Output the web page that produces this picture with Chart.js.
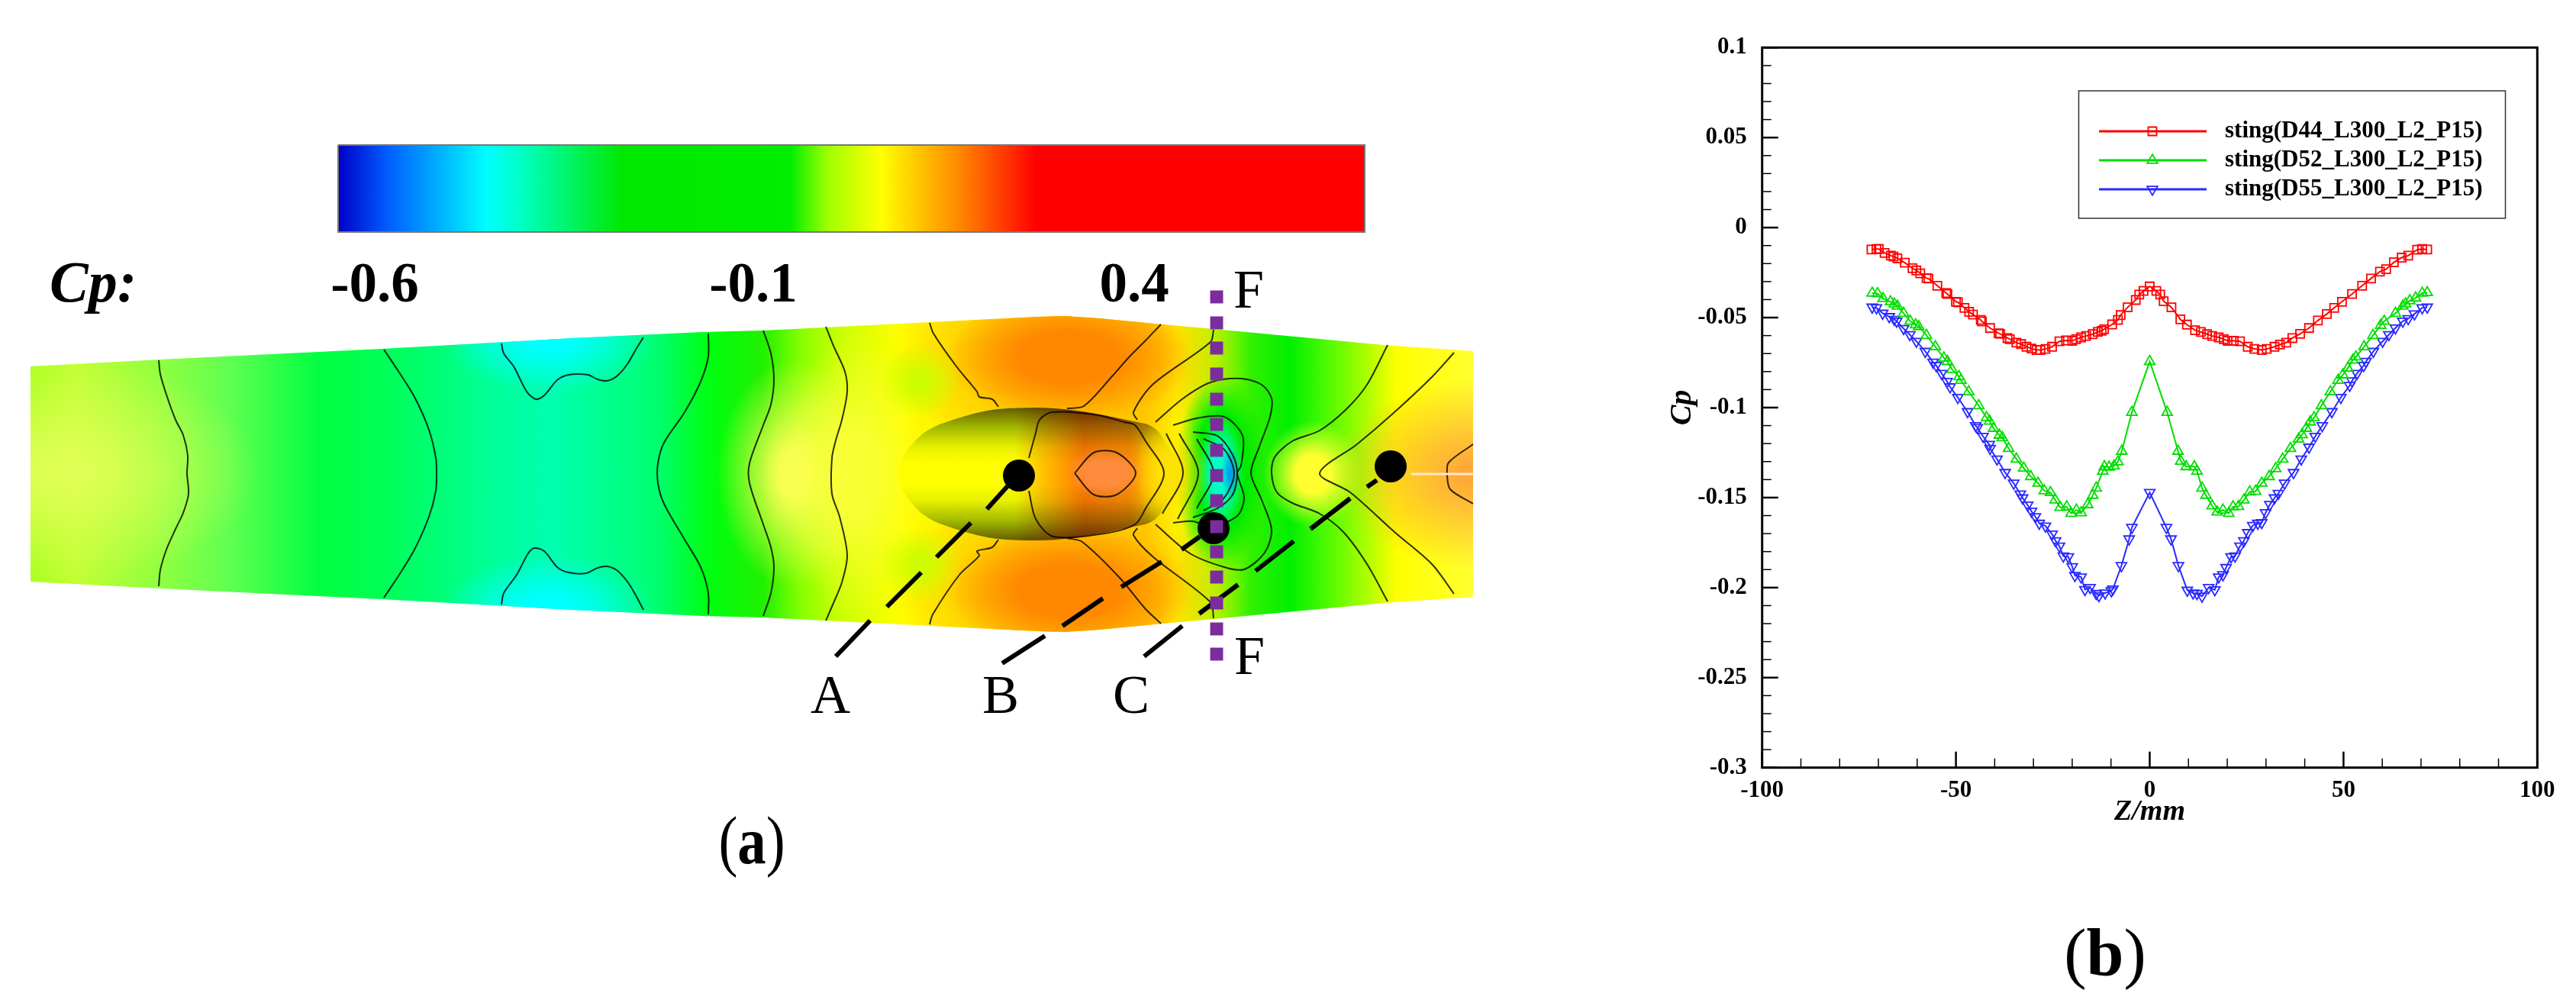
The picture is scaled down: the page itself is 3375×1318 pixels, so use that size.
<!DOCTYPE html>
<html>
<head>
<meta charset="utf-8">
<title>Cp contour and sting profiles</title>
<script src="https://cdn.jsdelivr.net/npm/chart.js@4/dist/chart.umd.js"></script>
<style>
    html, body { margin: 0; padding: 0; background: #fff; overflow: hidden; }
    body { position: relative; width: 3375px; height: 1318px; }
    canvas { position: absolute; top: 0; }
    #panelA { left: 0; }
    #panelB { left: 2150px; }
    .tag { position: absolute; font-family: "Liberation Serif", serif; font-size: 88px; line-height: 100px; color: #000; white-space: nowrap; transform: translateX(-50%); }
    .tag.narrow { transform: translateX(-50%) scaleX(0.85); }
</style>
</head>
<body>
<canvas id="panelA" width="2150" height="1318"></canvas>
<canvas id="panelB" width="1225" height="1318"></canvas>
<div class="tag narrow" style="left:985px; top:1052px;">(<b>a</b>)</div>
<div class="tag" style="left:2758px; top:1199px;">(<b>b</b>)</div>

<script>
// ---------- panel (b) data ----------
const legendLabels = ["sting(D44_L300_L2_P15)", "sting(D52_L300_L2_P15)", "sting(D55_L300_L2_P15)"];

const z44 = [-71.8,-70.5,-69.9,-68.4,-66.8,-66.1,-65.1,-63.2,-61.2,-60.2,-59.2,-57.6,-57.1,-54.8,-52.5,-52.2,-50.0,-49.5,-47.8,-46.6,-45.6,-43.6,-43.3,-41.2,-39.0,-38.6,-36.7,-36.1,-34.4,-33.2,-31.8,-30.5,-29.2,-28.2,-26.9,-25.2,-23.3,-21.6,-20.0,-19.0,-17.7,-16.4,-14.7,-13.4,-12.4,-11.8,-9.7,-8.2,-7.5,-5.7,-3.6,-2.7,-1.6,0,
    1.7,2.7,3.6,5.6,7.9,9.6,11.7,13.2,14.8,16.1,17.8,19.1,20.1,21.7,23.3,25.3,27.0,28.9,30.2,32.2,33.6,35.2,36.8,38.8,41.1,43.4,45.7,47.6,49.6,52.2,54.8,57.1,59.4,61.0,63.0,65.0,66.7,69.0,70.3,71.6];
const cp44 = [-.0122,-.0119,-.0119,-.0141,-.0156,-.0161,-.0171,-.0195,-.0226,-.0238,-.0254,-.0281,-.0283,-.0323,-.0364,-.0369,-.0412,-.0415,-.0446,-.0468,-.0483,-.0513,-.0521,-.0558,-.0587,-.0590,-.0614,-.0620,-.0639,-.0647,-.0662,-.0672,-.0680,-.0680,-.0674,-.0662,-.0632,-.0627,-.0629,-.0620,-.0610,-.0602,-.0592,-.0580,-.0573,-.0565,-.0538,-.0513,-.0486,-.0443,-.0402,-.0372,-.0352,-.0327,
    -.0352,-.0372,-.0409,-.0443,-.0510,-.0539,-.0570,-.0580,-.0592,-.0602,-.0610,-.0620,-.0629,-.0629,-.0632,-.0662,-.0674,-.0680,-.0674,-.0662,-.0650,-.0639,-.0614,-.0590,-.0558,-.0516,-.0480,-.0446,-.0412,-.0369,-.0323,-.0283,-.0245,-.0231,-.0193,-.0167,-.0156,-.0123,-.0119,-.0122];

const z52 = [-71.6,-70.2,-68.8,-66.9,-65.9,-65.1,-63.5,-61.8,-60.4,-59.6,-57.6,-55.3,-53.1,-52.2,-51.0,-49.2,-48.7,-46.7,-44.1,-42.1,-41.3,-40.3,-38.8,-38.0,-36.4,-34.4,-32.5,-30.7,-28.8,-27.2,-25.6,-24.4,-23.1,-21.4,-20.3,-18.9,-17.7,-16.0,-14.7,-13.8,-12.1,-11.7,-10.5,-9.2,-8.2,-7.2,-4.6,0,
    4.5,7.3,8.0,9.4,11.5,12.2,13.5,14.5,16.1,17.4,18.9,20.4,21.5,22.9,24.3,25.8,27.3,28.9,30.8,32.5,34.3,36.3,38.4,39.3,40.4,41.4,42.4,44.3,46.6,48.6,49.8,51.1,52.4,53.2,55.3,57.6,59.6,60.5,63.4,65.3,66.0,67.1,68.6,70.3,71.6];
const cp52 = [-.0364,-.0367,-.0394,-.0412,-.0424,-.0436,-.0476,-.0520,-.0540,-.0550,-.0599,-.0662,-.0724,-.0744,-.0788,-.0828,-.0848,-.0912,-.0989,-.1056,-.1075,-.1115,-.1153,-.1167,-.1227,-.1286,-.1336,-.1383,-.1420,-.1462,-.1472,-.1513,-.1554,-.1551,-.1587,-.1569,-.1584,-.1539,-.1487,-.1447,-.1353,-.1328,-.1331,-.1324,-.1301,-.1242,-.1026,-.0744,
    -.1026,-.1242,-.1298,-.1328,-.1328,-.1353,-.1447,-.1487,-.1546,-.1580,-.1569,-.1587,-.1551,-.1549,-.1513,-.1468,-.1465,-.1420,-.1383,-.1339,-.1286,-.1227,-.1175,-.1150,-.1115,-.1080,-.1056,-.0989,-.0912,-.0848,-.0818,-.0781,-.0736,-.0718,-.0662,-.0599,-.0543,-.0520,-.0476,-.0436,-.0424,-.0406,-.0391,-.0364,-.0361];

const z55 = [-71.6,-70.5,-68.9,-67.2,-65.9,-65.3,-63.5,-61.9,-60.2,-57.9,-55.9,-55.1,-53.7,-52.3,-51.5,-49.5,-47.0,-44.9,-44.5,-43.0,-41.4,-41.2,-39.4,-37.3,-35.1,-33.4,-32.8,-31.5,-30.5,-29.5,-28.5,-26.9,-25.2,-24.3,-23.3,-22.3,-21.0,-20.0,-19.3,-17.7,-16.7,-15.4,-13.8,-13.1,-11.5,-9.9,-9.5,-7.3,-5.3,-4.6,0,
    4.3,5.5,7.4,9.7,11.2,12.2,13.5,15.2,16.8,17.8,18.9,19.7,21.0,22.0,23.3,24.3,25.3,26.6,27.9,28.9,29.9,31.0,32.2,33.2,34.8,37.1,39.1,41.1,42.7,44.5,47.0,49.3,51.6,52.2,53.5,55.2,55.8,57.7,60.1,61.7,63.4,65.3,66.7,68.3,70.3,71.6];
const cp55 = [-.0442,-.0446,-.0476,-.0495,-.0510,-.0520,-.0561,-.0595,-.0632,-.0688,-.0748,-.0766,-.0810,-.0855,-.0885,-.0944,-.1023,-.1101,-.1111,-.1160,-.1205,-.1227,-.1286,-.1361,-.1420,-.1480,-.1502,-.1542,-.1576,-.1606,-.1643,-.1658,-.1703,-.1740,-.1770,-.1825,-.1829,-.1884,-.1933,-.1941,-.2011,-.2000,-.2033,-.2045,-.2030,-.2018,-.2008,-.1878,-.1730,-.1666,-.1472,
    -.1666,-.1730,-.1878,-.2015,-.2030,-.2033,-.2048,-.2000,-.2012,-.1941,-.1929,-.1889,-.1829,-.1825,-.1770,-.1740,-.1695,-.1655,-.1643,-.1639,-.1584,-.1539,-.1502,-.1477,-.1420,-.1361,-.1286,-.1220,-.1160,-.1101,-.1023,-.0944,-.0877,-.0852,-.0810,-.0766,-.0744,-.0688,-.0632,-.0595,-.0558,-.0520,-.0506,-.0480,-.0446,-.0442];

// ---------- panel (a) data, in picture pixels ----------
const domainTop = [[40,480],[210,471],[500,457],[645,449],[750,443],[920,435],[1000,433],[1200,423],[1300,418],[1360,415],[1395,414],[1440,417],[1523,425],[1590,431],[1813,452],[1930,460]];
const domainBottom = [[40,762],[210,771],[500,785],[645,793],[750,799],[920,807],[1000,809],[1200,819],[1300,824],[1360,827],[1395,828],[1440,825],[1523,817],[1590,811],[1813,790],[1930,782]];

const colorbarTop = [[443,190],[1788,190]];
const colorbarBottom = [[443,304],[1788,304]];
const colorbarFrame = [[443,190],[1788,190],[1788,304],[443,304],[443,190]];
const colorbarStops = [[0,"#0000c8"],[0.05,"#0060ff"],[0.145,"#00ffff"],[0.18,"#00ffc0"],[0.278,"#00e800"],[0.44,"#00ee00"],[0.477,"#a0ff00"],[0.529,"#ffff00"],[0.605,"#ff8800"],[0.68,"#ff0000"],[1,"#ff0000"]];

const fieldStops = [[40,"#a8ff20"],[100,"#c0ff30"],[210,"#90ff40"],[300,"#60ff50"],[420,"#00ff40"],[500,"#00ff55"],[650,"#00ff99"],[720,"#00ffb0"],[860,"#00ff70"],[930,"#00ff10"],[1000,"#20f000"],[1050,"#88ff00"],[1100,"#c8ff00"],[1180,"#ffff00"],[1250,"#ffee00"],[1500,"#ffcc00"],[1540,"#ffff00"],[1590,"#aaff00"],[1640,"#30f000"],[1690,"#00f000"],[1730,"#40f800"],[1790,"#aaff00"],[1830,"#ffff00"],[1930,"#ffff30"]];

// x, y, radius x, radius y, rgb, alpha, solid core
const fieldBlobs = [
    [80,617,260,150,"228,255,90",0.9,0.1],
    [720,445,140,70,"0,255,255",1,0.2],
    [720,797,140,70,"0,255,255",1,0.2],
    [1040,621,100,150,"255,255,85",0.95,0.2],
    [1120,621,90,190,"255,255,60",0.8,0.3],
    [1400,470,235,135,"255,190,0",1,0.3],
    [1400,772,235,135,"255,190,0",1,0.3],
    [1400,468,160,85,"255,136,0",1,0.4],
    [1400,774,160,85,"255,136,0",1,0.4],
    [1205,500,55,50,"200,255,0",0.9,0.2],
    [1205,740,55,50,"200,255,0",0.9,0.2],
    [1600,620,60,130,"0,235,0",1,0.6],
    [1720,621,65,70,"255,255,48",1,0.35],
    [1935,621,190,125,"255,168,56",1,0.1],
    [1600,620,30,76,"0,255,200",1,0.4],
    [1612,620,12,36,"0,120,255",0.7,0.2]
];

const bodyOutline = [[1172,620],[1187,590],[1213,563],[1247,550],[1293,537],[1333,534],[1380,534],[1433,541],[1480,551],[1515,558],[1532,590],[1552,620],[1532,652],[1515,684],[1480,691],[1433,701],[1380,708],[1333,708],[1293,705],[1247,692],[1213,679],[1187,652]];
const bodyStops = [[1172,"#ffff00"],[1330,"#ffff00"],[1362,"#ffc800"],[1420,"#ff7a00"],[1480,"#ff8c00"],[1525,"#ffdd00"],[1552,"#c0ff00"]];
const bodyBlobs = [[1448,620,52,36,"255,140,64",0.95,0.5]];
const bodyShade = [[0,"#5a5a5a"],[0.05,"#787860"],[0.15,"#a0b880"],[0.3,"#e8f0c0"],[0.42,"#ffffff"],[0.58,"#ffffff"],[0.7,"#e8f0c0"],[0.85,"#a0b880"],[0.95,"#787860"],[1,"#5a5a5a"]];
const bodyTail = [1535,620,48,80,"255,225,0",0.9,0.3];

const contourLines = [
    [[208,472],[210,490],[218,517],[230,550],[240,570],[246,597],[245,620],[247,647],[240,672],[230,693],[218,720],[210,747],[208,768]],
    [[503,458],[523,488],[543,520],[562,563],[571,600],[572,620],[571,643],[562,677],[543,720],[523,753],[503,783]],
    [[657,450],[660,463],[673,480],[690,513],[702,523],[713,518],[730,498],[745,491],[770,491],[783,497],[795,499],[808,493],[822,477],[833,458],[843,442]],
    [[657,792],[660,777],[677,753],[692,725],[700,718],[713,722],[730,743],[745,750],[768,751],[783,744],[795,742],[808,747],[822,762],[833,780],[843,799]],
    [[928,437],[928,467],[918,500],[897,540],[870,580],[862,607],[862,633],[870,660],[897,707],[918,743],[928,777],[928,805]],
    [[1000,433],[1010,463],[1014,497],[1010,530],[1000,557],[982,607],[982,633],[1000,687],[1010,717],[1014,743],[1010,777],[1000,807]],
    [[1082,428],[1092,453],[1107,487],[1110,513],[1103,550],[1095,577],[1090,600],[1090,647],[1100,677],[1110,727],[1103,763],[1092,790],[1082,813]],
    [[1218,423],[1223,437],[1253,480],[1280,513],[1283,520],[1300,523],[1308,533]],
    [[1218,818],[1222,805],[1257,753],[1283,728],[1280,722],[1300,717],[1308,707]],
    [[1398,535],[1420,532],[1457,493],[1480,467],[1500,447],[1521,425]],
    [[1398,705],[1418,710],[1467,757],[1500,797],[1521,817]],
    [[1348,600],[1357,567],[1362,550],[1378,540],[1433,543],[1473,553],[1487,557],[1501,578],[1525,620],[1501,666],[1487,687],[1447,699],[1380,703],[1357,680],[1348,643]],
    [[1408,620],[1433,593],[1463,593],[1488,620],[1463,648],[1433,648],[1408,620]],
    [[1590,432],[1586,448],[1510,504],[1485,540],[1490,550]],
    [[1490,692],[1485,701],[1510,729],[1586,789],[1590,810]],
    [[1514,553],[1550,522],[1586,501],[1626,496],[1653,504],[1666,522],[1664,546],[1650,585],[1639,620],[1653,655],[1666,694],[1657,724],[1630,746],[1604,743],[1559,725],[1514,687]],
    [[1528,568],[1550,620],[1523,673]],
    [[1545,568],[1570,620],[1543,680]],
    [[1568,575],[1590,620],[1568,666]],
    [[1537,557],[1568,548],[1604,546],[1628,571],[1626,610],[1621,620],[1630,652],[1621,676],[1586,690],[1563,683],[1537,685]],
    [[1563,566],[1595,571],[1615,596],[1621,620],[1615,648],[1595,666],[1563,678]],
    [[1577,575],[1604,589],[1617,620],[1604,652],[1577,669]],
    [[1818,452],[1791,504],[1764,536],[1729,564],[1693,578],[1670,599],[1666,620],[1673,645],[1693,659],[1729,673],[1760,697],[1791,739],[1818,788]],
    [[1905,462],[1876,494],[1827,540],[1778,582],[1729,620],[1769,645],[1827,697],[1876,739],[1905,778]],
    [[1930,582],[1898,606],[1896,622],[1900,641],[1930,660]]
];

const wakeLine = [[1849,621],[1930,621]];
const probeDots = [[1335,623],[1590,692],[1822,611]];
const leaderDashes = [
    [1320,637],[1293,667],null,[1272,685],[1227,730],null,[1207,750],[1162,795],null,[1140,813],[1095,860],null,
    [1572,703],[1548,720],null,[1522,736],[1469,769],null,[1445,784],[1392,820],null,[1369,833],[1313,869],null,
    [1804,629],[1791,638],null,[1769,653],[1717,693],null,[1695,709],[1645,748],null,[1622,766],[1571,804],null,[1549,820],[1499,860]
];
const sectionFF = [[1594,389],[1594,423],[1594,456],[1594,490],[1594,523],[1594,556],[1594,590],[1594,623],[1594,656],[1594,690],[1594,723],[1594,756],[1594,790],[1594,824],[1594,857]];

const panelTexts = [
    ["Cp:", 122, 395, "italic bold 76px 'Liberation Serif'"],
    ["-0.6", 491, 395, "bold 73px 'Liberation Serif'"],
    ["-0.1", 987, 395, "bold 73px 'Liberation Serif'"],
    ["0.4", 1486, 395, "bold 73px 'Liberation Serif'"],
    ["F", 1636, 403, "72px 'Liberation Serif'"],
    ["F", 1637, 883, "72px 'Liberation Serif'"],
    ["A", 1088, 934, "72px 'Liberation Serif'"],
    ["B", 1311, 934, "72px 'Liberation Serif'"],
    ["C", 1482, 934, "72px 'Liberation Serif'"]
];

function pts(list) {
    return list.map(p => p ? { x: p[0], y: p[1] } : { x: NaN, y: NaN });
}

function curve(xs, ys) {
    return xs.map((x, i) => ({ x: x, y: ys[i] }));
}

// soft elliptical patch of colour
function paintBlob(ctx, b) {
    const [x, y, rx, ry, rgb, alpha, core] = b;
    ctx.save();
    ctx.translate(x, y);
    ctx.scale(rx, ry);
    const g = ctx.createRadialGradient(0, 0, 0, 0, 0, 1);
    g.addColorStop(0, `rgba(${rgb},${alpha})`);
    g.addColorStop(core, `rgba(${rgb},${alpha})`);
    g.addColorStop(1, `rgba(${rgb},0)`);
    ctx.fillStyle = g;
    ctx.beginPath();
    ctx.arc(0, 0, 1, 0, Math.PI * 2);
    ctx.fill();
    ctx.restore();
}

function smoothPath(ctx, list) {
    const n = list.length;
    ctx.beginPath();
    ctx.moveTo((list[n - 1][0] + list[0][0]) / 2, (list[n - 1][1] + list[0][1]) / 2);
    list.forEach((p, i) => {
        const q = list[(i + 1) % n];
        ctx.quadraticCurveTo(p[0], p[1], (p[0] + q[0]) / 2, (p[1] + q[1]) / 2);
    });
    ctx.closePath();
}

// Cp field under the contour lines
const fieldPlugin = {
    id: "cpField",
    beforeDatasetsDraw(chart) {
        const ctx = chart.ctx;
        ctx.save();
        ctx.beginPath();
        domainTop.forEach((p, i) => i ? ctx.lineTo(p[0], p[1]) : ctx.moveTo(p[0], p[1]));
        domainBottom.slice().reverse().forEach(p => ctx.lineTo(p[0], p[1]));
        ctx.closePath();
        ctx.clip();

        const base = ctx.createLinearGradient(40, 0, 1930, 0);
        fieldStops.forEach(s => base.addColorStop((s[0] - 40) / 1890, s[1]));
        ctx.fillStyle = base;
        ctx.fillRect(0, 300, 2150, 600);
        fieldBlobs.forEach(b => paintBlob(ctx, b));

        // body
        const colour = ctx.createLinearGradient(1172, 0, 1552, 0);
        bodyStops.forEach(s => colour.addColorStop((s[0] - 1172) / 380, s[1]));
        smoothPath(ctx, bodyOutline);
        ctx.fillStyle = colour;
        ctx.fill();
        bodyBlobs.forEach(b => paintBlob(ctx, b));

        const shade = ctx.createLinearGradient(0, 533, 0, 709);
        bodyShade.forEach(s => shade.addColorStop(s[0], s[1]));
        ctx.globalCompositeOperation = "multiply";
        smoothPath(ctx, bodyOutline);
        ctx.fillStyle = shade;
        ctx.fill();
        ctx.globalCompositeOperation = "source-over";
        paintBlob(ctx, bodyTail);
        ctx.restore();
    },
    afterDatasetsDraw(chart) {
        const ctx = chart.ctx;
        ctx.save();
        ctx.fillStyle = "#000";
        ctx.textAlign = "center";
        ctx.textBaseline = "alphabetic";
        panelTexts.forEach(t => {
            ctx.font = t[3];
            ctx.fillText(t[0], t[1], t[2]);
        });
        ctx.restore();
    }
};

const ctxA = document.getElementById("panelA").getContext("2d");
const barFill = ctxA.createLinearGradient(443, 0, 1788, 0);
colorbarStops.forEach(s => barFill.addColorStop(s[0], s[1]));

const contourSets = contourLines.map(line => ({
    data: pts(line),
    borderColor: "rgba(0,0,0,0.8)",
    borderWidth: 2,
    pointRadius: 0,
    tension: 0.3
}));

new Chart(ctxA, {
    type: "line",
    data: {
        datasets: [
            { data: pts(sectionFF), showLine: false, pointStyle: "rect", pointRadius: 12, pointBackgroundColor: "#7b2d9e", pointBorderWidth: 0 },
            { data: pts(probeDots), showLine: false, pointRadius: 21, pointBackgroundColor: "#000", pointBorderWidth: 0 },
            { data: pts(leaderDashes), borderColor: "#000", borderWidth: 6, pointRadius: 0, spanGaps: false },
            { data: pts(wakeLine), borderColor: "#ffe8d0", borderWidth: 3, pointRadius: 0 },
            ...contourSets,
            { data: pts(colorbarFrame), borderColor: "#777", borderWidth: 2, pointRadius: 0 },
            { data: pts(colorbarTop), borderWidth: 0, pointRadius: 0, fill: "+1", backgroundColor: barFill },
            { data: pts(colorbarBottom), borderWidth: 0, pointRadius: 0 }
        ]
    },
    options: {
        responsive: false,
        devicePixelRatio: 1,
        animation: false,
        layout: { padding: 0, autoPadding: false },
        clip: false,
        scales: {
            x: { type: "linear", display: false, min: 0, max: 2150 },
            y: { type: "linear", display: false, min: 0, max: 1318, reverse: true }
        },
        plugins: { legend: { display: false }, tooltip: { enabled: false } }
    },
    plugins: [fieldPlugin]
});

// ---------- panel (b) ----------
const serif = "'Liberation Serif', serif";

function isMultiple(v, step) {
    return Math.abs(v / step - Math.round(v / step)) < 1e-6;
}

// inward ticks, frame and the boxed legend
const framePlugin = {
    id: "frameAndLegend",
    afterDatasetsDraw(chart) {
        const ctx = chart.ctx;
        const a = chart.chartArea;
        ctx.save();
        ctx.strokeStyle = "#000";
        chart.scales.y.ticks.forEach(t => {
            const major = isMultiple(t.value, 0.05);
            const y = chart.scales.y.getPixelForValue(t.value);
            ctx.lineWidth = major ? 2.5 : 1.5;
            ctx.beginPath();
            ctx.moveTo(a.left, y);
            ctx.lineTo(a.left + (major ? 21 : 12), y);
            ctx.stroke();
        });
        chart.scales.x.ticks.forEach(t => {
            const major = isMultiple(t.value, 50);
            const x = chart.scales.x.getPixelForValue(t.value);
            ctx.lineWidth = major ? 2.5 : 1.5;
            ctx.beginPath();
            ctx.moveTo(x, a.bottom);
            ctx.lineTo(x, a.bottom - (major ? 21 : 12));
            ctx.stroke();
        });
        ctx.lineWidth = 3;
        ctx.strokeRect(a.left, a.top, a.right - a.left, a.bottom - a.top);

        // legend box
        const offset = 2150;
        ctx.lineWidth = 1.5;
        ctx.strokeStyle = "#333";
        ctx.strokeRect(2723.5 - offset, 119, 559, 167);
        ctx.font = "bold 31px " + serif;
        ctx.textAlign = "left";
        ctx.textBaseline = "middle";
        [172, 210, 248].forEach((y, i) => {
            const ds = chart.data.datasets[i];
            ctx.strokeStyle = ds.borderColor;
            ctx.lineWidth = 3;
            ctx.beginPath();
            ctx.moveTo(2750 - offset, y);
            ctx.lineTo(2891 - offset, y);
            ctx.stroke();
            ctx.fillStyle = "rgba(0,0,0,0)";
            ctx.lineWidth = ds.pointBorderWidth;
            Chart.helpers.drawPoint(ctx, {
                pointStyle: ds.pointStyle,
                rotation: ds.pointRotation || 0,
                radius: ds.pointRadius,
                borderWidth: ds.pointBorderWidth
            }, 2820 - offset, y);
            ctx.fillStyle = "#000";
            ctx.fillText(legendLabels[i], 2915 - offset, y);
        });
        ctx.restore();
    }
};

function seriesSet(label, xs, ys, colour, style, rotation, radius) {
    return {
        label: label,
        data: curve(xs, ys),
        borderColor: colour,
        borderWidth: 2,
        pointStyle: style,
        pointRotation: rotation,
        pointRadius: radius,
        pointBorderWidth: 1.8,
        pointBorderColor: colour,
        pointBackgroundColor: "rgba(0,0,0,0)"
    };
}

new Chart(document.getElementById("panelB").getContext("2d"), {
    type: "line",
    data: {
        datasets: [
            seriesSet(legendLabels[0], z44, cp44, "#ff0000", "rect", 0, 7.8),
            seriesSet(legendLabels[1], z52, cp52, "#00dd00", "triangle", 0, 7.8),
            seriesSet(legendLabels[2], z55, cp55, "#2a2aff", "triangle", 180, 7.8)
        ]
    },
    options: {
        responsive: false,
        devicePixelRatio: 1,
        animation: false,
        layout: { padding: { left: 31, top: 62.3, right: 50.7, bottom: 231.3 }, autoPadding: false },
        scales: {
            x: {
                type: "linear",
                min: -100,
                max: 100,
                grid: { display: false },
                border: { display: false },
                afterFit(scale) { scale.height = 81; },
                ticks: {
                    stepSize: 10,
                    autoSkip: false,
                    maxRotation: 0,
                    padding: 4,
                    color: "#000",
                    font: { family: serif, weight: "bold", size: 31 },
                    callback: v => isMultiple(v, 50) ? String(v) : ""
                },
                title: { display: true, text: "Z/mm", color: "#000", padding: 0, font: { family: serif, style: "italic", weight: "bold", size: 38 } }
            },
            y: {
                type: "linear",
                min: -0.3,
                max: 0.1,
                grid: { display: false },
                border: { display: false },
                afterFit(scale) { scale.width = 127.7; },
                ticks: {
                    stepSize: 0.01,
                    autoSkip: false,
                    padding: 12,
                    color: "#000",
                    font: { family: serif, weight: "bold", size: 31 },
                    callback: v => isMultiple(v, 0.05) ? String(Math.round(v * 100) / 100) : ""
                },
                title: { display: true, text: "Cp", color: "#000", padding: 0, font: { family: serif, style: "italic", weight: "bold", size: 40 } }
            }
        },
        plugins: { legend: { display: false }, tooltip: { enabled: false } }
    },
    plugins: [framePlugin]
});
</script>
</body>
</html>
